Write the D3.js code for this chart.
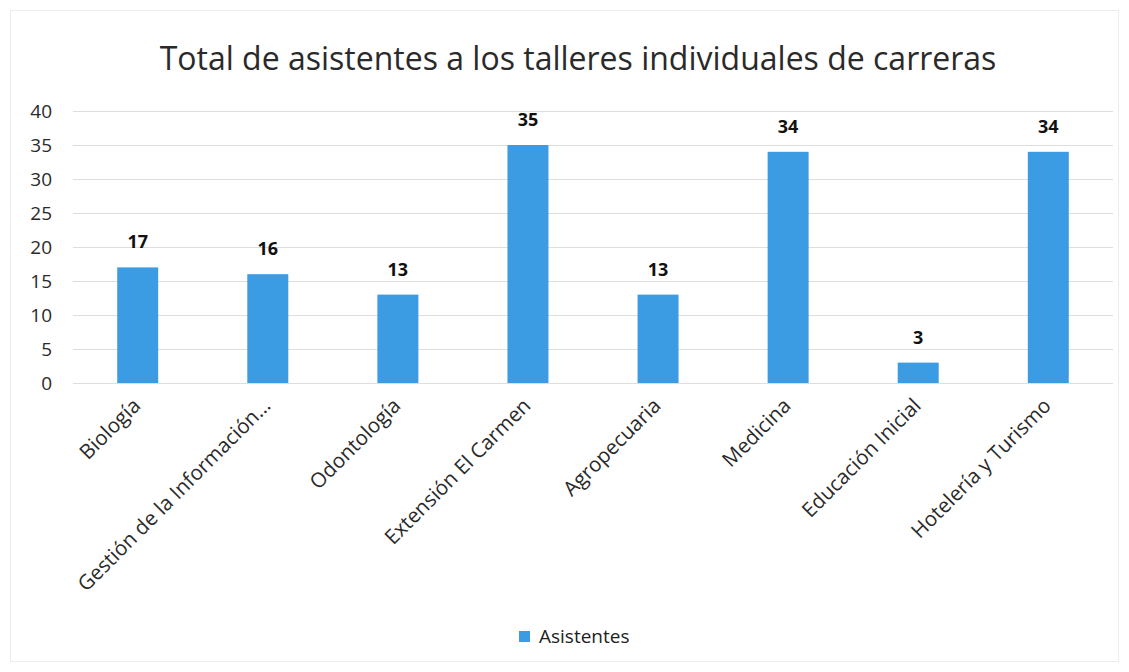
<!DOCTYPE html>
<html>
<head>
  <meta charset="utf-8">
  <title>Total de asistentes</title>
  <style>
    body { margin: 0; background: #fff; font-family: "Open Sans", "Liberation Sans", sans-serif; }
    .grid line { stroke: #dedede; stroke-width: 1px; }
    .grid path { display: none; }
  </style>
</head>
<body>
  <div id="chart"></div>
  <script src="https://d3js.org/d3.v7.min.js"></script>
  <script>
    const categories = ["Biología", "Gestión de la Información…", "Odontología", "Extensión El Carmen",
                        "Agropecuaria", "Medicina", "Educación Inicial", "Hotelería y Turismo"];
    const asistentes = [17, 16, 13, 35, 13, 34, 3, 34];
    const yTicks = [0, 5, 10, 15, 20, 25, 30, 35, 40];
    const seriesName = "Asistentes";
    const title = "Total de asistentes a los talleres individuales de carreras";

    const width = 1129, height = 672;
    const margin = { left: 73, right: 16, top: 111, bottom: 289 };
    const barColor = "#3b9be3";

    const svg = d3.select("#chart").append("svg")
      .attr("width", width)
      .attr("height", height);

    // faint chart border
    svg.append("rect")
      .attr("x", 10.5).attr("y", 10.5)
      .attr("width", width - 21).attr("height", height - 21)
      .attr("fill", "none")
      .attr("stroke", "#ededed");

    const x = d3.scaleBand()
      .domain(categories)
      .range([margin.left, width - margin.right])
      .paddingInner(0.685)
      .paddingOuter(0.34);

    const y = d3.scaleLinear()
      .domain([0, 40])
      .range([height - margin.bottom, margin.top]);

    // gridlines
    svg.append("g")
      .attr("class", "grid")
      .attr("transform", `translate(${margin.left},0)`)
      .call(d3.axisLeft(y).tickValues(yTicks).tickSize(-(width - margin.left - margin.right)).tickFormat(""));

    // y tick labels
    svg.append("g")
      .selectAll("text")
      .data(yTicks)
      .join("text")
      .attr("x", 52)
      .attr("y", d => y(d))
      .attr("dy", "0.36em")
      .attr("text-anchor", "end")
      .attr("fill", "#2a2a2a")
      .style("font-size", "19px")
      .text(d => d);

    // bars
    svg.append("g")
      .selectAll("rect")
      .data(asistentes)
      .join("rect")
      .attr("x", (d, i) => x(categories[i]))
      .attr("y", d => y(d))
      .attr("width", x.bandwidth())
      .attr("height", d => y(0) - y(d))
      .attr("fill", barColor);

    // value labels
    svg.append("g")
      .selectAll("text")
      .data(asistentes)
      .join("text")
      .attr("x", (d, i) => x(categories[i]) + x.bandwidth() / 2)
      .attr("y", d => y(d) - 19)
      .attr("text-anchor", "middle")
      .attr("fill", "#111")
      .style("font-size", "18px")
      .style("font-weight", "bold")
      .text(d => d);

    // category labels, rotated
    svg.append("g")
      .selectAll("text")
      .data(categories)
      .join("text")
      .attr("transform", d => `translate(${x(d) + x.bandwidth() / 2 + 4},${y(0) + 24}) rotate(-45)`)
      .attr("text-anchor", "end")
      .attr("fill", "#2a2a2a")
      .style("font-size", "20.5px")
      .text(d => d);

    // title
    svg.append("text")
      .attr("x", 578)
      .attr("y", 70)
      .attr("text-anchor", "middle")
      .attr("fill", "#2a2a2a")
      .style("font-size", "32px")
      .text(title);

    // legend
    const legend = svg.append("g").attr("transform", "translate(519,631)");
    legend.append("rect")
      .attr("width", 11).attr("height", 11)
      .attr("fill", barColor);
    legend.append("text")
      .attr("x", 20).attr("y", 12)
      .attr("fill", "#222")
      .style("font-size", "19px")
      .text(seriesName);
  </script>
</body>
</html>
